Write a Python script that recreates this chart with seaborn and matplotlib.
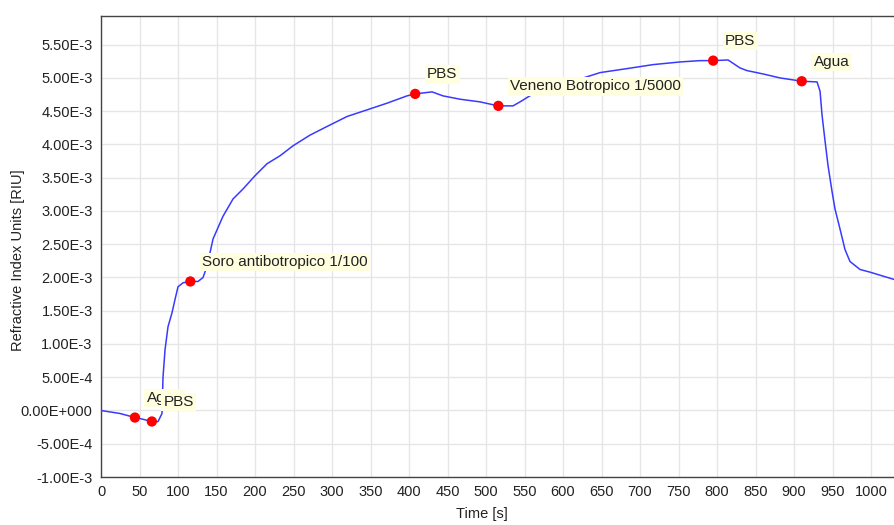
import numpy as np
import seaborn as sns
import matplotlib as mpl
mpl.use('Agg')
from matplotlib import pyplot as plt
from matplotlib.ticker import FuncFormatter, MultipleLocator

# sensorgram trace, y in 1E-3 RIU
time_s = [0, 24.7, 44.2, 50.6, 66.2, 74.0, 79.2, 80.5, 83.1, 87.0, 92.2, 96.1,
          100.0, 106.5, 115.6, 126.0, 132.5, 137.7, 145.5, 158.4, 171.4, 184.4,
          200.0, 215.6, 232.5, 249.4, 271.4, 293.5, 319.5, 345.5, 371.4, 397.4,
          407.8, 429.9, 444.2, 466.2, 492.2, 515.6, 535.1, 544.2, 561.0, 583.1,
          613.0, 648.1, 683.1, 716.9, 751.9, 777.9, 794.8, 814.3, 829.9, 839.0,
          859.7, 881.8, 910.4, 929.9, 933.8, 936.4, 940.3, 944.2, 949.4, 953.2,
          959.7, 966.2, 972.7, 985.7, 998.7, 1030.0]
riu_e3 = [0.0, -0.045, -0.106, -0.121, -0.165, -0.167, -0.045, 0.50, 0.91, 1.26,
          1.47, 1.67, 1.86, 1.92, 1.94, 1.94, 2.00, 2.17, 2.58, 2.92, 3.18, 3.33,
          3.53, 3.71, 3.83, 3.98, 4.14, 4.27, 4.42, 4.52, 4.62, 4.73, 4.76, 4.79,
          4.73, 4.68, 4.64, 4.58, 4.58, 4.64, 4.76, 4.85, 4.95, 5.08, 5.14, 5.20,
          5.24, 5.26, 5.26, 5.27, 5.15, 5.11, 5.06, 5.00, 4.95, 4.94, 4.80, 4.44,
          4.05, 3.68, 3.29, 3.03, 2.73, 2.42, 2.24, 2.12, 2.08, 1.97]

# injection markers
mark_t = [44, 66, 116, 408, 516, 795, 910]
mark_y_e3 = [-0.106, -0.165, 1.94, 4.76, 4.58, 5.26, 4.95]
mark_labels = ["Agua", "PBS", "Soro antibotropico 1/100", "PBS",
               "Veneno Botropico 1/5000", "PBS", "Agua"]


def riuFmt(v, pos):
    if abs(v) < 1e-12:
        return '0.00E+000'
    m, e = ('%.2E' % v).split('E')
    return '%sE%d' % (m, int(e))


sns.set_style('whitegrid')
plt.rcParams['font.family'] = ['Liberation Sans', 'DejaVu Sans']

fig = plt.figure(figsize=(8.94, 5.25), dpi=100)
ax = fig.add_axes([0.113, 0.0914, 0.888, 0.878])

y = np.array(riu_e3) * 1e-3
my = np.array(mark_y_e3) * 1e-3

sns.lineplot(x=time_s, y=y, ax=ax, color='#3a3aff', lw=1.1, sort=False, zorder=3)
sns.scatterplot(x=mark_t, y=my, ax=ax, color='#ff0000', s=55, edgecolor='none',
                zorder=4)

for t, v, lab in zip(mark_t, my, mark_labels):
    ax.annotate(lab, (t, v), xytext=(8.5, 14), textcoords='offset points',
                ha='left', va='center', fontsize=11, color='#222222',
                bbox=dict(boxstyle='square,pad=0.15', fc='#ffffe0', ec='none'),
                zorder=5)

ax.set_xlim(0, 1031)
ax.set_ylim(-1e-3, 5.93e-3)
ax.xaxis.set_major_locator(MultipleLocator(50))
ax.yaxis.set_major_locator(MultipleLocator(5e-4))
ax.yaxis.set_major_formatter(FuncFormatter(riuFmt))

ax.grid(True, color='#e6e6e6', lw=1)
for s in ['left', 'bottom', 'top']:
    ax.spines[s].set_color('#444444')
    ax.spines[s].set_linewidth(1)
ax.spines['right'].set_visible(False)
ax.tick_params(axis='both', direction='out', length=4, width=1,
               color='#444444', labelsize=10.5, labelcolor='#222222', pad=2)

ax.set_xlabel('Time [s]', fontsize=10.5, color='#222222')
ax.set_ylabel('Refractive Index Units [RIU]', fontsize=10.5, color='#222222')
ax.xaxis.set_label_coords(0.48, -0.065)
ax.yaxis.set_label_coords(-0.096, 0.47)

plt.savefig('out.png', dpi=100)
